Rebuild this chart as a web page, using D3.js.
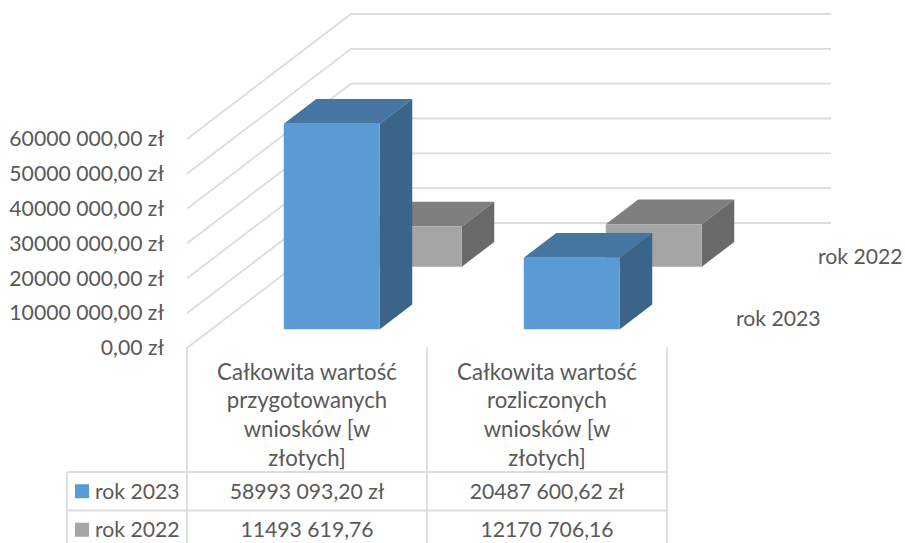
<!DOCTYPE html>
<html><head><meta charset="utf-8">
<script src="https://cdnjs.cloudflare.com/ajax/libs/d3/7.8.5/d3.min.js"></script>
<style>html,body{margin:0;padding:0;background:#fff;overflow:hidden}svg{display:block}
text{font-family:Lato,"Open Sans",sans-serif;fill:#595959;font-size:21.2px}
text.cat{font-size:22.2px}</style>
</head><body><svg id="c" width="905" height="543"></svg>
<script>
const categories = ["przygotowane", "rozliczone"];
const categoryLines = [
  ["Całkowita wartość","przygotowanych","wniosków [w","złotych]"],
  ["Całkowita wartość","rozliczonych","wniosków [w","złotych]"]
];
const seriesNames = ["rok 2023", "rok 2022"];
const values2023 = [58993093.20, 20487600.62];
const values2022 = [11493619.76, 12170706.16];
const tableRow2023 = ["58993 093,20 zł", "20487 600,62 zł"];
const tableRow2022 = ["11493 619,76", "12170 706,16"];
const tickValues = [0, 10000000, 20000000, 30000000, 40000000, 50000000, 60000000];
const tickLabels = ["0,00 zł","10000 000,00 zł","20000 000,00 zł","30000 000,00 zł","40000 000,00 zł","50000 000,00 zł","60000 000,00 zł"];
const seriesValues = [values2023, values2022];
const seriesRows = [tableRow2023, tableRow2022];
const faceColors = [
  {front:"#5b9bd5", top:"#4575a1", side:"#3a6488"},
  {front:"#a5a5a5", top:"#7f7f7f", side:"#696969"}
];

const svg = d3.select("#c");
const grid = "#dcdcdc";
const x = d3.scaleBand().domain(categories).range([187, 667]);
const y = d3.scaleLinear().domain([0, 60000000]).range([348, 139]);
const z = d3.scaleBand().domain(seriesNames).range([0, 1]);
const skewX = d3.scaleLinear().domain([0, 1]).range([0, 164]);
const skewY = d3.scaleLinear().domain([0, 1]).range([0, -125]);
const proj = (px, v, d) => [px + skewX(d), y(v) + skewY(d)];
const poly = pts => "M" + pts.map(p => p.join(",")).join("L") + "Z";
const barRatio = 0.4, depthRatio = 0.396;

// gridlines on side wall and back wall
const gridG = svg.append("g");
tickValues.forEach(t => {
  const a = proj(x.range()[0], t, 0), b = proj(x.range()[0], t, 1);
  gridG.append("path")
    .attr("d", `M${a}L${b}L${b[0] + 480},${b[1]}`)
    .attr("fill", "none").attr("stroke", grid).attr("stroke-width", 1.8);
});

// bars, rear series first
[1, 0].forEach(si => {
  const name = seriesNames[si], col = faceColors[si];
  const dw = z.bandwidth() * depthRatio;
  const d0 = z(name) + (z.bandwidth() - dw) / 2, d1 = d0 + dw;
  categories.forEach((c, ci) => {
    const w = x.bandwidth() * barRatio;
    const l = x(c) + (x.bandwidth() - w) / 2, r = l + w;
    const v = seriesValues[si][ci];
    const g = svg.append("g");
    g.append("path").attr("d", poly([proj(l,v,d0),proj(r,v,d0),proj(r,v,d1),proj(l,v,d1)])).attr("fill", col.top);
    g.append("path").attr("d", poly([proj(r,0,d0),proj(r,v,d0),proj(r,v,d1),proj(r,0,d1)])).attr("fill", col.side);
    g.append("path").attr("d", poly([proj(l,0,d0),proj(r,0,d0),proj(r,v,d0),proj(l,v,d0)])).attr("fill", col.front);
  });
});

// value axis
const axis = d3.axisLeft(y).tickValues(tickValues).tickSize(0).tickPadding(0)
  .tickFormat((d, i) => tickLabels[i]);
const ax = svg.append("g").attr("transform", "translate(164,0)").call(axis);
ax.select(".domain").remove();
ax.attr("font-family", null).attr("font-size", null);

// series labels on the depth axis
seriesNames.forEach(n => {
  const p = proj(x.range()[1], 0, z(n) + z.bandwidth() / 2);
  svg.append("text").attr("x", p[0] + 28).attr("y", p[1] + 2).attr("dy", "0.35em").text(n);
});

// data table
const tableTop = 472, rowH = 38.5, tableLeft = 67, tableBottom = 560;
const rowYs = [tableTop, tableTop + rowH, tableTop + 2 * rowH];
const line = (a, b, c, d) => svg.append("line").attr("x1", a).attr("y1", b).attr("x2", c).attr("y2", d)
  .attr("stroke", grid).attr("stroke-width", 1.8);
[x.range()[0], x(categories[1]), x.range()[1]].forEach(px => line(px, 347, px, tableBottom));
line(tableLeft, tableTop, tableLeft, tableBottom);
rowYs.forEach(ry => line(tableLeft, ry, x.range()[1], ry));

categories.forEach((c, ci) => {
  const cx = x(c) + x.bandwidth() / 2;
  categoryLines[ci].forEach((s, i) => {
    svg.append("text").attr("class", "cat").attr("x", cx).attr("y", 372 + i * 28.7).attr("dy", "0.35em")
      .attr("text-anchor", "middle").text(s);
  });
  seriesNames.forEach((n, si) => {
    svg.append("text").attr("x", cx).attr("y", tableTop + rowH * (si + 0.5)).attr("dy", "0.35em")
      .attr("text-anchor", "middle").text(seriesRows[si][ci]);
  });
});
seriesNames.forEach((n, si) => {
  const cy = tableTop + rowH * (si + 0.5);
  svg.append("rect").attr("x", 75).attr("y", cy - 7).attr("width", 14).attr("height", 14).attr("fill", faceColors[si].front);
  svg.append("text").attr("x", 95).attr("y", cy).attr("dy", "0.35em").text(n);
});
</script></body></html>
